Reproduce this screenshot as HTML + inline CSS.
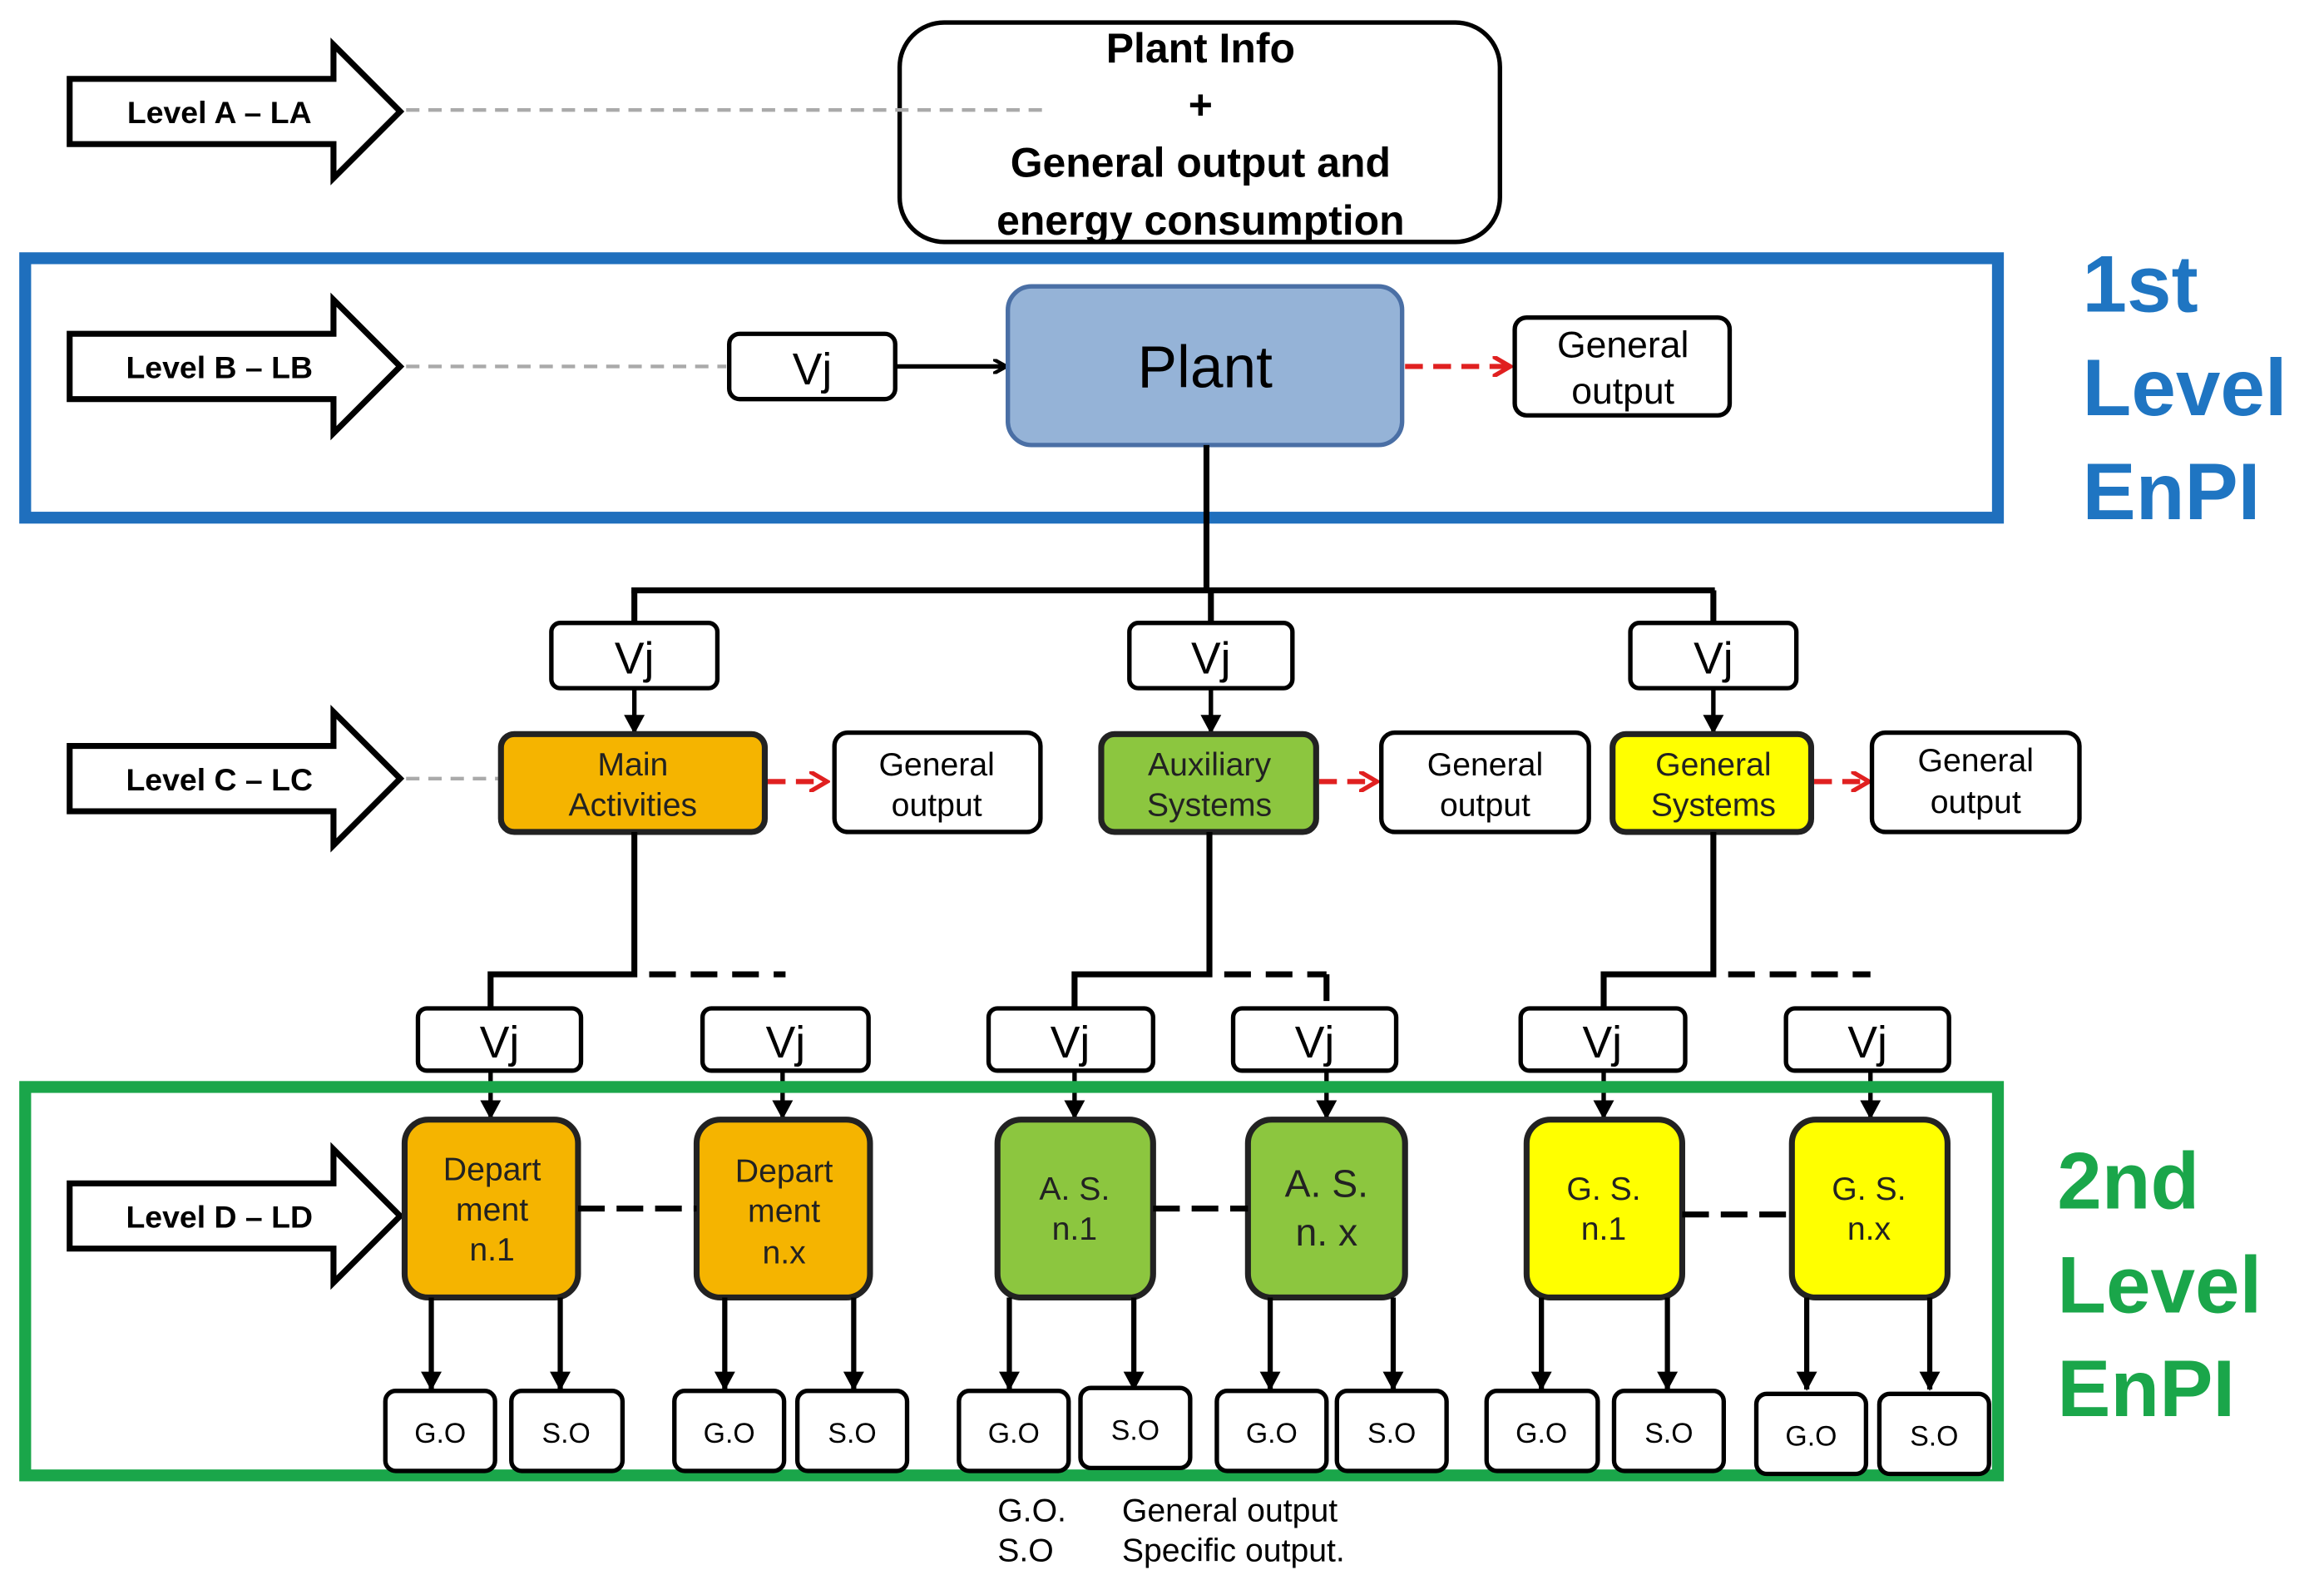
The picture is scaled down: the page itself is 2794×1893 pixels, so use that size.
<!DOCTYPE html>
<html><head><meta charset="utf-8"><style>
html,body{margin:0;padding:0;background:#fff;}
svg{display:block;}
text{font-family:"Liberation Sans",Arial,sans-serif;}
</style></head><body>
<svg width="2794" height="1893" viewBox="0 0 1568 1062" xmlns="http://www.w3.org/2000/svg">
<defs>
<marker id="ab" markerWidth="10" markerHeight="10" refX="8" refY="5" orient="auto" markerUnits="userSpaceOnUse"><path d="M0,0 L9,5 L0,10" fill="none" stroke="#000" stroke-width="2.5"/></marker>
<marker id="abf" markerWidth="14" markerHeight="14" refX="12" refY="7" orient="auto" markerUnits="userSpaceOnUse"><path d="M0,0 L13,7 L0,14 Z" fill="#000"/></marker>
<marker id="ar" markerWidth="14" markerHeight="14" refX="11" refY="7" orient="auto" markerUnits="userSpaceOnUse"><path d="M0,0 L12,7 L0,14" fill="none" stroke="#e02020" stroke-width="3"/></marker>
<g id="lvl"><path d="M47,-22 L225,-22 L225,-45 L270,0 L225,45 L225,22 L47,22 Z" fill="#fff" stroke="#000" stroke-width="4"/></g>
</defs>

<use href="#lvl" transform="translate(0,75)"/>
<use href="#lvl" transform="translate(0,247)"/>
<use href="#lvl" transform="translate(0,525)"/>
<use href="#lvl" transform="translate(0,820)"/>
<g font-weight="bold" font-size="21" text-anchor="middle">
<text x="148" y="83">Level A – LA</text>
<text x="148" y="255">Level B – LB</text>
<text x="148" y="533">Level C – LC</text>
<text x="148" y="828">Level D – LD</text>
</g>

<rect x="607" y="15" width="405" height="148" rx="30" fill="#fff" stroke="#000" stroke-width="3"/>
<g stroke="#aaa" stroke-width="2.5" stroke-dasharray="9,6">
<line x1="274" y1="74" x2="705" y2="74"/>
<line x1="274" y1="247" x2="490" y2="247"/>
<line x1="274" y1="525" x2="336" y2="525"/>
</g>
<g font-weight="bold" font-size="28" text-anchor="middle">
<text x="810" y="42">Plant Info</text>
<text x="810" y="80">+</text>
<text x="810" y="119">General output and</text>
<text x="810" y="158">energy consumption</text>
</g>

<rect x="17" y="174" width="1331" height="175" fill="none" stroke="#1f6fbd" stroke-width="8"/>
<g fill="#1f75c2" font-weight="bold" font-size="54">
<text x="1405" y="210">1st</text>
<text x="1405" y="280">Level</text>
<text x="1405" y="350">EnPI</text>
</g>

<rect x="492" y="225" width="112" height="44" rx="7" fill="#fff" stroke="#000" stroke-width="3"/>
<text x="548" y="259" font-size="30" text-anchor="middle">Vj</text>
<line x1="604" y1="247" x2="678" y2="247" stroke="#000" stroke-width="3" marker-end="url(#ab)"/>
<rect x="680" y="193" width="266" height="107" rx="16" fill="#95b3d7" stroke="#4a6fa5" stroke-width="3"/>
<text x="813" y="261" font-size="40" text-anchor="middle">Plant</text>
<line x1="948" y1="247" x2="1018" y2="247" stroke="#e02020" stroke-width="3.5" stroke-dasharray="12,7" marker-end="url(#ar)"/>
<rect x="1022" y="214" width="145" height="66" rx="8" fill="#fff" stroke="#000" stroke-width="3"/>
<text x="1095" y="241" font-size="25" text-anchor="middle">General</text>
<text x="1095" y="272" font-size="25" text-anchor="middle">output</text>

<g stroke="#000" stroke-width="4" fill="none">
<line x1="814" y1="300" x2="814" y2="398"/>
<line x1="426" y1="398" x2="1157" y2="398"/>
<line x1="428" y1="398" x2="428" y2="420"/>
<line x1="817" y1="398" x2="817" y2="420"/>
<line x1="1156" y1="398" x2="1156" y2="420"/>
</g>
<g stroke="#000" stroke-width="3">
<line x1="428" y1="464" x2="428" y2="494" marker-end="url(#abf)"/>
<line x1="817" y1="464" x2="817" y2="494" marker-end="url(#abf)"/>
<line x1="1156" y1="464" x2="1156" y2="494" marker-end="url(#abf)"/>
</g>
<g fill="#fff" stroke="#000" stroke-width="3">
<rect x="372" y="420" width="112" height="44" rx="6"/>
<rect x="762" y="420" width="110" height="44" rx="6"/>
<rect x="1100" y="420" width="112" height="44" rx="6"/>
</g>
<g font-size="30" text-anchor="middle">
<text x="428" y="454">Vj</text><text x="817" y="454">Vj</text><text x="1156" y="454">Vj</text>
</g>

<rect x="338" y="495" width="178" height="66" rx="9" fill="#f5b400" stroke="#222" stroke-width="4"/>
<rect x="743" y="495" width="145" height="66" rx="9" fill="#8cc63f" stroke="#222" stroke-width="4"/>
<rect x="1088" y="495" width="134" height="66" rx="9" fill="#ffff00" stroke="#222" stroke-width="4"/>
<g font-size="22" text-anchor="middle" fill="#222">
<text x="427" y="523">Main</text><text x="427" y="550">Activities</text>
<text x="816" y="523">Auxiliary</text><text x="816" y="550">Systems</text>
<text x="1156" y="523">General</text><text x="1156" y="550">Systems</text>
</g>
<g stroke="#e02020" stroke-width="3.5" stroke-dasharray="12,7">
<line x1="518" y1="527" x2="557" y2="527" marker-end="url(#ar)"/>
<line x1="890" y1="527" x2="928" y2="527" marker-end="url(#ar)"/>
<line x1="1224" y1="527" x2="1260" y2="527" marker-end="url(#ar)"/>
</g>
<g fill="#fff" stroke="#000" stroke-width="3">
<rect x="563" y="494" width="139" height="67" rx="9"/>
<rect x="932" y="494" width="140" height="67" rx="9"/>
<rect x="1263" y="494" width="140" height="67" rx="9"/>
</g>
<g font-size="22" text-anchor="middle">
<text x="632" y="523">General</text><text x="632" y="550">output</text>
<text x="1002" y="523">General</text><text x="1002" y="550">output</text>
<text x="1333" y="520">General</text><text x="1333" y="548">output</text>
</g>

<g stroke="#000" stroke-width="4" fill="none">
<polyline points="428,561 428,657 331,657 331,680"/>
<polyline points="816,561 816,657 725,657 725,680"/>
<polyline points="1156,561 1156,657 1082,657 1082,680"/>
</g>
<g stroke="#000" stroke-width="4" fill="none" stroke-dasharray="18,10">
<line x1="438" y1="657" x2="530" y2="657"/>
<line x1="826" y1="657" x2="895" y2="657"/>
<polyline points="895,657 895,680"/>
<line x1="1166" y1="657" x2="1262" y2="657"/>
</g>
<g fill="#fff" stroke="#000" stroke-width="3">
<rect x="282" y="680" width="110" height="42" rx="6"/>
<rect x="474" y="680" width="112" height="42" rx="6"/>
<rect x="667" y="680" width="111" height="42" rx="6"/>
<rect x="832" y="680" width="110" height="42" rx="6"/>
<rect x="1026" y="680" width="111" height="42" rx="6"/>
<rect x="1205" y="680" width="110" height="42" rx="6"/>
</g>
<g font-size="30" text-anchor="middle">
<text x="337" y="713">Vj</text><text x="530" y="713">Vj</text><text x="722" y="713">Vj</text>
<text x="887" y="713">Vj</text><text x="1081" y="713">Vj</text><text x="1260" y="713">Vj</text>
</g>
<g stroke="#000" stroke-width="3">
<line x1="331" y1="722" x2="331" y2="754" marker-end="url(#abf)"/>
<line x1="528" y1="722" x2="528" y2="754" marker-end="url(#abf)"/>
<line x1="725" y1="722" x2="725" y2="754" marker-end="url(#abf)"/>
<line x1="895" y1="722" x2="895" y2="754" marker-end="url(#abf)"/>
<line x1="1082" y1="722" x2="1082" y2="754" marker-end="url(#abf)"/>
<line x1="1262" y1="722" x2="1262" y2="754" marker-end="url(#abf)"/>
</g>

<rect x="17" y="733" width="1331" height="262" fill="none" stroke="#1aa64a" stroke-width="8"/>
<g fill="#1aa64a" font-weight="bold" font-size="54">
<text x="1388" y="815">2nd</text>
<text x="1388" y="885">Level</text>
<text x="1388" y="955">EnPI</text>
</g>

<g stroke="#222" stroke-width="4">
<rect x="273" y="755" width="117" height="120" rx="16" fill="#f5b400"/>
<rect x="470" y="755" width="117" height="120" rx="16" fill="#f5b400"/>
<rect x="673" y="755" width="105" height="120" rx="16" fill="#8cc63f"/>
<rect x="842" y="755" width="106" height="120" rx="16" fill="#8cc63f"/>
<rect x="1030" y="755" width="105" height="120" rx="16" fill="#ffff00"/>
<rect x="1209" y="755" width="105" height="120" rx="16" fill="#ffff00"/>
</g>
<g stroke="#000" stroke-width="4" stroke-dasharray="18,8">
<line x1="390" y1="815" x2="470" y2="815"/>
<line x1="778" y1="815" x2="842" y2="815"/>
<line x1="1135" y1="819" x2="1209" y2="819"/>
</g>
<g font-size="22" text-anchor="middle" fill="#222">
<text x="332" y="796">Depart</text><text x="332" y="823">ment</text><text x="332" y="850">n.1</text>
<text x="529" y="797">Depart</text><text x="529" y="824">ment</text><text x="529" y="852">n.x</text>
<text x="725" y="809">A. S.</text><text x="725" y="836">n.1</text>
<text x="895" y="807" font-size="26">A. S.</text><text x="895" y="840" font-size="26">n. x</text>
<text x="1082" y="809">G. S.</text><text x="1082" y="836">n.1</text>
<text x="1261" y="809">G. S.</text><text x="1261" y="836">n.x</text>
</g>
<g stroke="#000" stroke-width="3.5">
<line x1="291" y1="875" x2="291" y2="937" marker-end="url(#abf)"/>
<line x1="378" y1="875" x2="378" y2="937" marker-end="url(#abf)"/>
<line x1="489" y1="875" x2="489" y2="937" marker-end="url(#abf)"/>
<line x1="576" y1="875" x2="576" y2="937" marker-end="url(#abf)"/>
<line x1="681" y1="875" x2="681" y2="937" marker-end="url(#abf)"/>
<line x1="765" y1="875" x2="765" y2="937" marker-end="url(#abf)"/>
<line x1="857" y1="875" x2="857" y2="937" marker-end="url(#abf)"/>
<line x1="940" y1="875" x2="940" y2="937" marker-end="url(#abf)"/>
<line x1="1040" y1="875" x2="1040" y2="937" marker-end="url(#abf)"/>
<line x1="1125" y1="875" x2="1125" y2="937" marker-end="url(#abf)"/>
<line x1="1219" y1="875" x2="1219" y2="937" marker-end="url(#abf)"/>
<line x1="1302" y1="875" x2="1302" y2="937" marker-end="url(#abf)"/>
</g>
<g fill="#fff" stroke="#000" stroke-width="3">
<rect x="260" y="938" width="74" height="54" rx="7"/>
<rect x="345" y="938" width="75" height="54" rx="7"/>
<rect x="455" y="938" width="74" height="54" rx="7"/>
<rect x="538" y="938" width="74" height="54" rx="7"/>
<rect x="647" y="938" width="74" height="54" rx="7"/>
<rect x="729" y="936" width="74" height="54" rx="7"/>
<rect x="821" y="938" width="74" height="54" rx="7"/>
<rect x="902" y="938" width="74" height="54" rx="7"/>
<rect x="1003" y="938" width="75" height="54" rx="7"/>
<rect x="1089" y="938" width="74" height="54" rx="7"/>
<rect x="1185" y="940" width="74" height="54" rx="7"/>
<rect x="1268" y="940" width="74" height="54" rx="7"/>
</g>
<g font-size="19" text-anchor="middle">
<text x="297" y="973">G.O</text><text x="382" y="973">S.O</text>
<text x="492" y="973">G.O</text><text x="575" y="973">S.O</text>
<text x="684" y="973">G.O</text><text x="766" y="971">S.O</text>
<text x="858" y="973">G.O</text><text x="939" y="973">S.O</text>
<text x="1040" y="973">G.O</text><text x="1126" y="973">S.O</text>
<text x="1222" y="975">G.O</text><text x="1305" y="975">S.O</text>
</g>

<g font-size="22">
<text x="673" y="1026">G.O.</text><text x="757" y="1026">General output</text>
<text x="673" y="1053">S.O</text><text x="757" y="1053">Specific output.</text>
</g>
</svg>
</body></html>
